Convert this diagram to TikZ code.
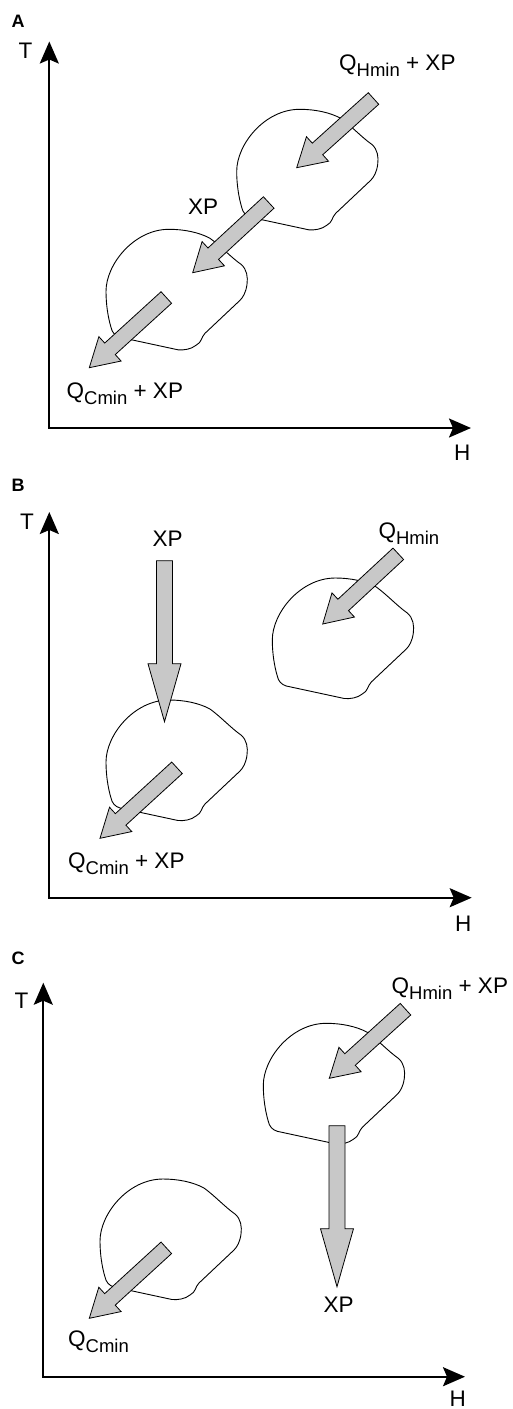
\documentclass[tikz,border=0pt]{standalone}
\usepackage{fontspec}
\setmainfont{Liberation Sans}
\usetikzlibrary{calc,arrows.meta}
\definecolor{arrowgray}{RGB}{200,200,200}
\newcommand{\lowsub}[1]{\raisebox{-6pt}{\fontsize{18.5}{20}\selectfont #1}}
% tail, tip, half shaft width, half head width, head length
\newcommand{\fatarrow}[5]{%
  \coordinate (fa-base) at ($(#2)!#5!(#1)$);
  \filldraw[bigarrow] ($(#1)!#3!90:(#2)$) -- ($(fa-base)!#3!90:(#2)$) -- ($(fa-base)!#4!90:(#2)$) -- (#2) -- ($(fa-base)!#4!-90:(#2)$) -- ($(fa-base)!#3!-90:(#2)$) -- ($(#1)!#3!-90:(#2)$) -- cycle;
}
\tikzset{
  bigarrow/.style={fill=arrowgray, draw=black, line width=0.8pt, line join=miter},
  axisline/.style={line width=2pt, {Stealth[length=22pt,width=19pt,inset=4pt]}-{Stealth[length=22pt,width=19pt,inset=4pt]}},
  lbl/.style={font=\fontsize{22.5}{26}\selectfont, inner sep=0pt, anchor=base west},
  panel/.style={font=\fontsize{18}{20}\selectfont\bfseries, inner sep=0pt, anchor=base west},
  blob/.pic={
    \draw[line width=0.9pt, line join=round]
      (14,108) .. controls (9,106.5) and (6,103) .. (5,98)
      .. controls (2,88) and (0,75) .. (0,62)
      .. controls (0,35) and (28,0) .. (63,0)
      .. controls (78,0) and (93,3) .. (104,9)
      .. controls (115,17) and (125,28) .. (135,35)
      .. controls (141,40) and (142,48) .. (141,55)
      .. controls (140,63) and (137,68) .. (134,71)
      -- (99,104)
      .. controls (95,108) and (96,113) .. (90,116)
      .. controls (85,120) and (78,121) .. (72,120.5)
      -- cycle;
  }
}
\begin{document}
\begin{tikzpicture}[x=1pt,y=-1pt]
\useasboundingbox (0,0) rectangle (513,1409);

% ---------------- Panel A ----------------
\node[panel] (pA) at (11.5,27.3) {A};
\coordinate (A-o) at (49.3,428);
\coordinate (A-y) at (49.3,41.5);
\coordinate (A-x) at (471,428);
\draw[axisline] (A-y) -- (A-o) -- (A-x);
\node[lbl] (A-T) at (18.5,58) {T};
\node[lbl] (A-H) at (454,460.5) {H};

\pic at (236.7,109.3) {blob};
\pic at (106,229.3) {blob};

\coordinate (A1-tail) at (373.5,98.5);
\coordinate (A1-tip) at (296.7,167.7);
\coordinate (A2-tail) at (268.7,202.5);
\coordinate (A2-tip) at (192.7,272.7);
\coordinate (A3-tail) at (166.3,297.5);
\coordinate (A3-tip) at (89.3,367.7);
\fatarrow{A1-tail}{A1-tip}{7.8pt}{16.5pt}{28pt}
\fatarrow{A2-tail}{A2-tip}{7.8pt}{16.5pt}{28pt}
\fatarrow{A3-tail}{A3-tip}{7.8pt}{16.5pt}{28pt}

\node[lbl] (A-qh) at (339,70.7) {Q\lowsub{Hmin} + XP};
\node[lbl] (A-xp) at (188,214) {XP};
\node[lbl] (A-qc) at (66.5,398) {Q\lowsub{Cmin} + XP};

% ---------------- Panel B ----------------
\node[panel] (pB) at (11.5,491.7) {B};
\coordinate (B-o) at (49.3,897.7);
\coordinate (B-y) at (49.3,512);
\coordinate (B-x) at (471.7,897.7);
\draw[axisline] (B-y) -- (B-o) -- (B-x);
\node[lbl] (B-T) at (20,529) {T};
\node[lbl] (B-H) at (455,931) {H};

\pic at (272.3,578) {blob};
\pic at (106,700) {blob};

\coordinate (B1-tail) at (398.3,553.8);
\coordinate (B1-tip) at (322.7,624);
\coordinate (B2-tail) at (177,767.8);
\coordinate (B2-tip) at (100,838.3);
\coordinate (B3-tail) at (164.5,560.7);
\coordinate (B3-tip) at (164.5,721.7);
\fatarrow{B1-tail}{B1-tip}{7.8pt}{16.5pt}{28pt}
\fatarrow{B2-tail}{B2-tip}{7.8pt}{16.5pt}{28pt}
\fatarrow{B3-tail}{B3-tip}{8pt}{16.5pt}{58pt}

\node[lbl] (B-xp) at (152.5,546.5) {XP};
\node[lbl] (B-qh) at (378.3,538.3) {Q\lowsub{Hmin}};
\node[lbl] (B-qc) at (68,868.3) {Q\lowsub{Cmin} + XP};

% ---------------- Panel C ----------------
\node[panel] (pC) at (11.5,964) {C};
\coordinate (C-o) at (43.3,1376.7);
\coordinate (C-y) at (43.3,982.7);
\coordinate (C-x) at (465,1376.7);
\draw[axisline] (C-y) -- (C-o) -- (C-x);
\node[lbl] (C-T) at (14.5,1008) {T};
\node[lbl] (C-H) at (449.5,1406) {H};

\pic at (263.3,1023.3) {blob};
\pic at (100,1179) {blob};

\coordinate (C1-tail) at (405.5,1009.2);
\coordinate (C1-tip) at (329.3,1078.3);
\coordinate (C2-tail) at (337,1125.7);
\coordinate (C2-tip) at (337,1286.7);
\coordinate (C3-tail) at (166.3,1247.8);
\coordinate (C3-tip) at (89.3,1318.3);
\fatarrow{C1-tail}{C1-tip}{7.8pt}{16.5pt}{28pt}
\fatarrow{C2-tail}{C2-tip}{8pt}{16.5pt}{58pt}
\fatarrow{C3-tail}{C3-tip}{7.8pt}{16.5pt}{28pt}

\node[lbl] (C-qh) at (391.5,993.3) {Q\lowsub{Hmin} + XP};
\node[lbl] (C-xp) at (323.5,1312.7) {XP};
\node[lbl] (C-qc) at (68,1346.7) {Q\lowsub{Cmin}};
\end{tikzpicture}
\end{document}
